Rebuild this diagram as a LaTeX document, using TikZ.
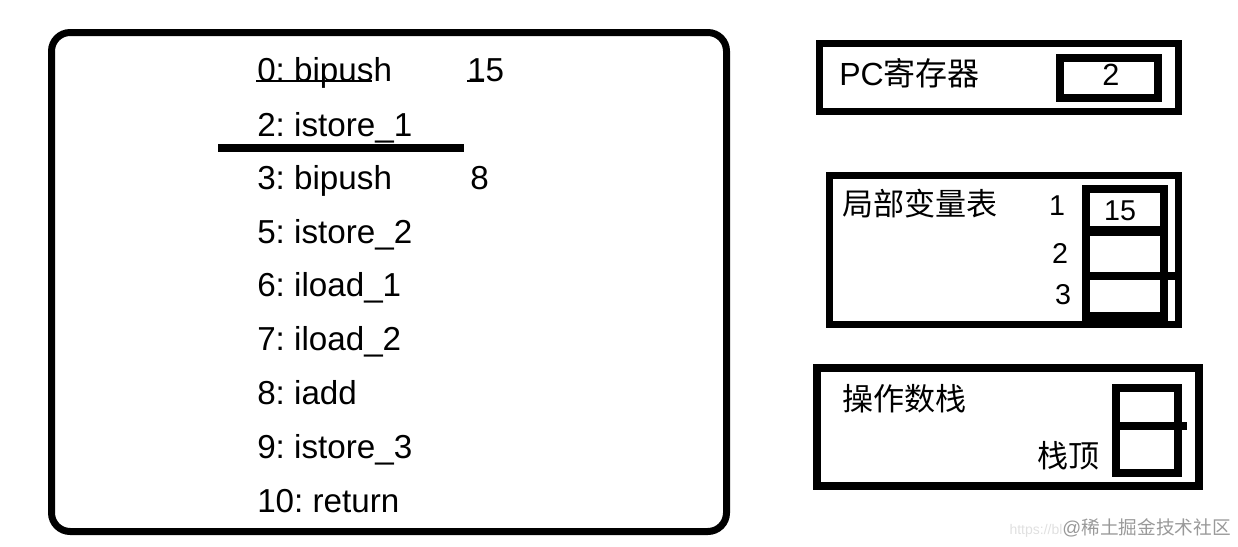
\documentclass[tikz,border=0pt]{standalone}
\usepackage{fontspec}
\setmainfont{Liberation Sans}
\setsansfont{Liberation Sans}
\newfontfamily\cjk{Noto Sans CJK SC}
\begin{document}
\frenchspacing
\begin{tikzpicture}[x=0.75pt,y=-0.75pt,
  op/.style={anchor=base west, inner sep=0pt, font=\fontsize{24.9pt}{28pt}\selectfont},
  lab/.style={anchor=west, inner sep=0pt, font=\cjk\fontsize{23.3pt}{26pt}\selectfont},
  num/.style={anchor=center, inner sep=0pt, font=\fontsize{21.5pt}{24pt}\selectfont},
  frame/.style={draw=black, line width=5.25pt},
  thin/.style={draw=black, line width=1.5pt}
]
\useasboundingbox (0,0) rectangle (1238,546);
% main code box
\draw[frame, rounded corners=14pt] (51.5,32.5) rectangle (726.5,531.5);
% instruction list
\node[op] (i0) at (257,81.5) {0:\ bipush};
\node[op] (v0) at (467,81.5) {15};
\node[op] (i2) at (257,136.5) {2:\ istore\_1};
\node[op] (i3) at (257,189.5) {3:\ bipush};
\node[op] (v3) at (470,189.5) {8};
\node[op] (i5) at (257,243) {5:\ istore\_2};
\node[op] (i6) at (257,296.5) {6:\ iload\_1};
\node[op] (i7) at (257,350.5) {7:\ iload\_2};
\node[op] (i8) at (257,404.5) {8:\ iadd};
\node[op] (i9) at (257,458.5) {9:\ istore\_3};
\node[op] (i10) at (257,512.5) {10:\ return};
% underline artifacts
\draw[thin] (256,81) -- (372,81);
\draw[thin] (467,81) -- (484,81);
% current position marker
\draw[draw=black, line width=5.5pt] (218,148) -- (464,148);

% PC register
\draw[frame] (819.5,43.5) rectangle (1178.5,111.5);
\draw[draw=black, line width=6pt] (1060,58) rectangle (1158,98);
\node[anchor=base west, inner sep=0pt] (pc) at (839,85)
  {\fontsize{24pt}{28pt}\selectfont PC{\cjk 寄存器}};
\node[anchor=center, inner sep=0pt, font=\fontsize{23pt}{26pt}\selectfont] (pcv) at (1111,74.5) {2};

% local variable table
\draw[frame] (829.5,175.5) rectangle (1178.5,324.5);
\fill[black] (1082,185) rectangle (1168,322);
\fill[white] (1090,193) rectangle (1160,226);
\fill[white] (1090,236) rectangle (1160,272);
\fill[white] (1090,280) rectangle (1160,312);
\fill[black] (1166,272) rectangle (1176,280);
\node[lab] (lv) at (842,204) {局部变量表};
\node[num] (n1) at (1057,206) {1};
\node[num] (n2) at (1060,253) {2};
\node[num] (n3) at (1063,295) {3};
\node[num] (c1) at (1120,210.5) {15};

% operand stack
\draw[draw=black, line width=6pt] (817,368) rectangle (1199,486);
\draw[draw=black, line width=6pt] (1116,388) rectangle (1178,473);
\fill[black] (1112,422) rectangle (1187,430);
\node[lab] (os) at (842,398.5) {操作数栈};
\node[lab, anchor=east] (top) at (1100,456) {栈顶};

% watermark
\node[anchor=east, inner sep=0pt] (wm) at (1231,528)
  {{\fontsize{10.5pt}{13pt}\selectfont\color{black!12}https://bl}{\fontsize{14pt}{17pt}\selectfont\color{black!40}@{\cjk 稀土掘金技术社区}}};
\end{tikzpicture}
\end{document}
